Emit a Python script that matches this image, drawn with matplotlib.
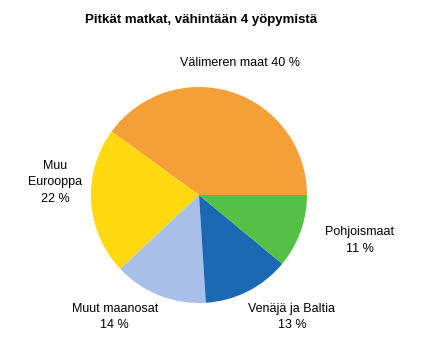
import matplotlib.pyplot as plt

plt.rcParams['font.family'] = ['Liberation Sans', 'DejaVu Sans']

# data
categories = ["Välimeren maat", "Muu\nEurooppa", "Muut maanosat", "Venäjä ja Baltia", "Pohjoismaat"]
shares = [40, 22, 14, 13, 11]
colors = ["#F4A036", "#FED90F", "#A8BFEA", "#1B69B4", "#55C046"]
label_pos = [(0.38, 1.22), (-1.33, 0.12), (-0.78, -1.13), (0.86, -1.13), (1.49, -0.42)]

W, H = 427, 360
fig = plt.figure(figsize=(W / 100, H / 100), dpi=100)
cx, cy, r = 199, 195, 108
ax = fig.add_axes([(cx - r) / W, (H - cy - r) / H, 2 * r / W, 2 * r / H])

ax.pie(shares, colors=colors, startangle=0, counterclock=True,
       wedgeprops=dict(linewidth=0))
ax.set_xlim(-1, 1)
ax.set_ylim(-1, 1)
ax.set_aspect('equal')
ax.set_clip_on(False)

for name, val, (x, y) in zip(categories, shares, label_pos):
    if name.startswith("Välimeren"):
        txt = f"{name} {val} %"
    else:
        txt = f"{name}\n{val} %"
    ax.text(x, y, txt, ha='center', va='center', fontsize=9, linespacing=1.5)

fig.text(201 / W, 1 - 20 / H, "Pitkät matkat, vähintään 4 yöpymistä",
         ha='center', va='center', fontsize=9.5, fontweight='bold')

fig.savefig("out.png", dpi=100)
